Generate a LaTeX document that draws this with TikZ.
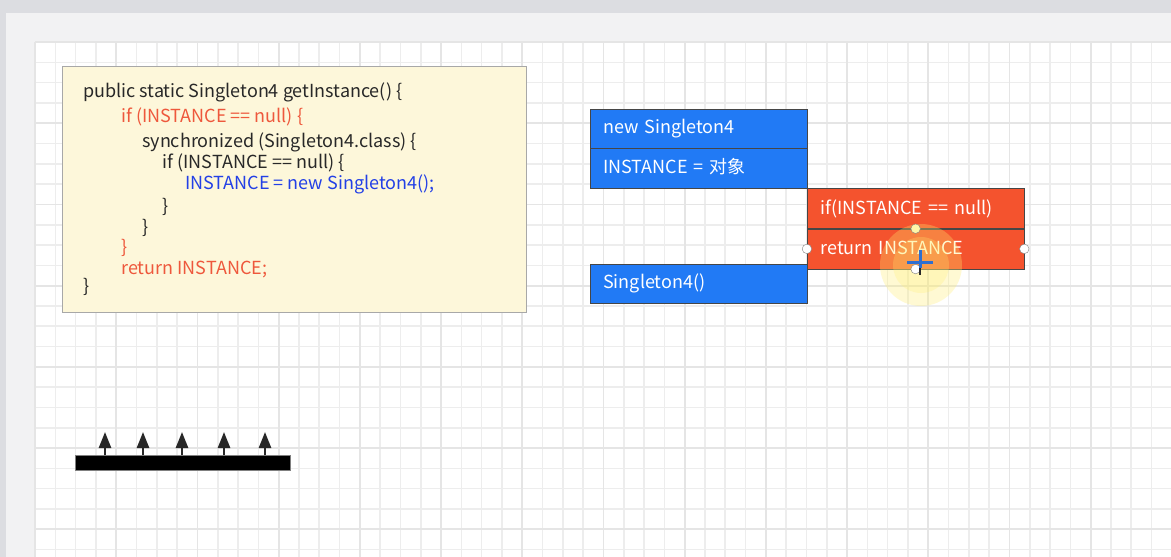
\documentclass[tikz,border=0pt]{standalone}
\usepackage{fontspec}
\newfontfamily\cjk{Noto Sans CJK SC}
\usetikzlibrary{calc,arrows.meta}
\definecolor{topgray}{RGB}{220,221,225}
\definecolor{panelgray}{RGB}{242,242,243}
\definecolor{gridminor}{RGB}{237,237,237}
\definecolor{gridmajor}{RGB}{229,229,229}
\definecolor{notefill}{RGB}{253,247,218}
\definecolor{noteedge}{RGB}{168,168,168}
\definecolor{codeblack}{RGB}{40,40,40}
\definecolor{codered}{RGB}{238,88,60}
\definecolor{codeblue}{RGB}{35,64,230}
\definecolor{boxblue}{RGB}{33,122,245}
\definecolor{boxred}{RGB}{244,83,46}
\definecolor{boxedge}{RGB}{70,70,70}
\definecolor{glow}{RGB}{255,238,110}
\definecolor{cursorblue}{RGB}{47,111,208}

\tikzset{
  codeline/.style={anchor=west, inner sep=0pt, text height=14pt, text depth=3pt,
    font=\cjk\fontsize{18}{20}\selectfont},
  stackbox/.style={draw=boxedge, text=white, anchor=north west, minimum height=39.5pt,
    text width=190pt, inner xsep=13.5pt, inner ysep=0pt, align=left,
    text height=14pt, text depth=3pt, font=\cjk\fontsize{18}{20}\selectfont},
  handle/.style={circle, draw=gray, fill=white, inner sep=0pt, minimum size=9.5pt},
  pushup/.style={draw=codeblack, line width=2.5pt, -{Triangle[width=12pt,length=16pt]}}
}

\begin{document}
\begin{tikzpicture}[x=1pt,y=-1pt]
\useasboundingbox (0,0) rectangle (1171,557);
\fill[topgray] (0,0) rectangle (1171,557);
\fill[panelgray] (6,13) rectangle (1171,557);
\fill[white] (35,42) rectangle (1171,557);
\foreach \i in {0,...,55}
\draw[gridminor,line width=1.6pt] ({35+20.3*\i},42) -- ({35+20.3*\i},557);
\foreach \j in {0,...,25}
\draw[gridminor,line width=1.6pt] (35,{42+20.3*\j}) -- (1171,{42+20.3*\j});
\foreach \i in {0,4,...,52}
\draw[gridmajor,line width=1.8pt] ({35+20.3*\i},42) -- ({35+20.3*\i},557);
\foreach \j in {0,4,...,24}
\draw[gridmajor,line width=1.8pt] (35,{42+20.3*\j}) -- (1171,{42+20.3*\j});

\node[draw=noteedge,fill=notefill,anchor=north west,minimum width=464pt,minimum height=246pt,inner sep=0pt] (code) at (62,66) {};
\node[codeline,text=codeblack] (l1) at (83,91.5) {public static Singleton4 getInstance() \{};
\node[codeline,text=codered] (l2) at (121,117) {if (INSTANCE == null) \{};
\node[codeline,text=codeblack] (l3) at (142,141.5) {synchronized (Singleton4.class) \{};
\node[codeline,text=codeblack] (l4) at (162.5,162.5) {if (INSTANCE == null) \{};
\node[codeline,text=codeblue] (l5) at (185,184) {INSTANCE = new Singleton4();};
\node[codeline,text=codeblack] (l6) at (162.5,206.5) {\}};
\node[codeline,text=codeblack] (l7) at (142,228) {\}};
\node[codeline,text=codered] (l8) at (121,248) {\}};
\node[codeline,text=codered] (l9) at (121,269) {return INSTANCE;};
\node[codeline,text=codeblack] (l10) at (83,287) {\}};

\node[stackbox,fill=boxblue] (newobj) at (589.5,108.5) {new Singleton4};
\node[stackbox,fill=boxblue] (assign) at (newobj.south west) {INSTANCE = 对象};
\node[stackbox,fill=boxred,minimum height=40pt] (ifnull) at (assign.south east) {if(INSTANCE == null)};
\node[stackbox,fill=boxred,minimum height=40pt] (retinst) at (ifnull.south west) {return INSTANCE};
\node[stackbox,fill=boxblue] (ctor) at (589.5,263.5) {Singleton4()};

\fill[glow,opacity=0.3] (921,265) circle (41);
\fill[glow,opacity=0.25] (921,265) circle (28);
\node[handle] (hleft) at (retinst.west) {};
\node[handle] (hright) at (retinst.east) {};
\node[handle,fill=glow!60] (htop) at (retinst.north) {};
\node[handle] (hbottom) at (retinst.south) {};
\draw[cursorblue,line width=3pt] (907,262) -- (933,262);
\draw[cursorblue,line width=3pt] (920,250) -- (920,268);
\draw[codeblack,line width=2pt] (920,268) -- (920,275);

\node[fill=black,draw=gray,anchor=north west,minimum width=214.5pt,minimum height=15pt,inner sep=0pt] (bar) at (75,455) {};
\foreach \x in {105,143,182,224,265}
\draw[pushup] (bar.north -| \x,0) -- (\x,432);
\end{tikzpicture}
\end{document}
